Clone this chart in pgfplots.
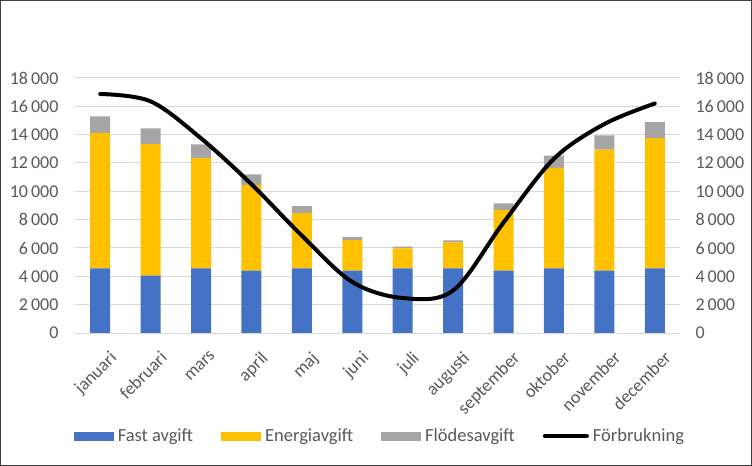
\documentclass[border=0pt]{standalone}
\usepackage{fontspec}
\setmainfont{Carlito}
\usepackage{pgfplots}
\pgfplotsset{compat=1.18}
\definecolor{cBlue}{HTML}{4472C4}
\definecolor{cYellow}{HTML}{FFC000}
\definecolor{cGray}{HTML}{A5A5A5}
\definecolor{cText}{HTML}{595959}
\definecolor{cGrid}{HTML}{D9D9D9}
\begin{document}
\begin{tikzpicture}
\useasboundingbox (0,0) rectangle (752bp,466bp);
\draw[line width=1bp, black!75] (0.5bp,0.5bp) rectangle (751.5bp,465.5bp);
\pgfplotsset{
  common/.style={
    at={(75bp,133bp)}, anchor=south west,
    width=605bp, height=255bp, scale only axis,
    xmin=-0.5, xmax=11.5, ymin=0, ymax=18000,
    ytick={0,2000,...,18000},
    major tick length=0pt,
    axis line style={draw=none},
    tick label style={font=\fontsize{18bp}{20bp}\selectfont, text=cText},
    /pgf/number format/.cd, assume math mode=true, 1000 sep={\,}, /pgfplots/.cd,
    scaled y ticks=false,
  }
}
\begin{axis}[common,
  ybar stacked, bar width=20bp,
  ymajorgrids, grid style={cGrid, line width=1bp},
  xtick={0,...,11},
  xticklabels={januari,februari,mars,april,maj,juni,juli,augusti,september,oktober,november,december},
  xticklabel style={rotate=45, anchor=north east, inner sep=1bp, xshift=-5bp, yshift=-17bp},
  yticklabel style={xshift=-13bp},
  legend columns=4,
  legend style={at={(0.504,-0.404)}, anchor=center, draw=none, fill=none,
    font=\fontsize{18.5bp}{20bp}\selectfont, text=cText,
    /tikz/every even column/.append style={column sep=26bp},
    /tikz/every odd column/.append style={column sep=2bp},
    inner sep=0pt},
  legend cell align=left,
]
\addplot[fill=cBlue, draw=none, legend image code/.code={\fill[cBlue] (0bp,-4.5bp) rectangle (40bp,4.5bp);}]
  coordinates {(0,4560) (1,4050) (2,4560) (3,4400) (4,4560) (5,4400) (6,4560) (7,4560) (8,4400) (9,4560) (10,4400) (11,4560)};
\addlegendentry{Fast avgift}
\addplot[fill=cYellow, draw=none, legend image code/.code={\fill[cYellow] (0bp,-4.5bp) rectangle (40bp,4.5bp);}]
  coordinates {(0,9540) (1,9290) (2,7790) (3,6050) (4,3910) (5,2160) (6,1420) (7,1840) (8,4280) (9,7090) (10,8540) (11,9200)};
\addlegendentry{Energiavgift}
\addplot[fill=cGray, draw=none, legend image code/.code={\fill[cGray] (0bp,-4.5bp) rectangle (40bp,4.5bp);}]
  coordinates {(0,1190) (1,1110) (2,970) (3,750) (4,490) (5,220) (6,110) (7,140) (8,470) (9,870) (10,1010) (11,1130)};
\addlegendentry{Flödesavgift}
\addlegendimage{legend image code/.code={\draw[black, line width=4bp, line cap=round] (0bp,0bp) -- (42bp,0bp);}}
\addlegendentry{Förbrukning}
\end{axis}
\begin{axis}[common,
  axis x line=none, axis y line*=right,
  yticklabel style={xshift=12bp, anchor=west},
]
\addplot[black, line width=4bp, smooth, tension=0.55, line cap=round]
  coordinates {(0,16870) (1,16350) (2,13740) (3,10500) (4,6870) (5,3600) (6,2470) (7,3000) (8,7800) (9,12300) (10,14750) (11,16200)};
\end{axis}
\end{tikzpicture}
\end{document}
